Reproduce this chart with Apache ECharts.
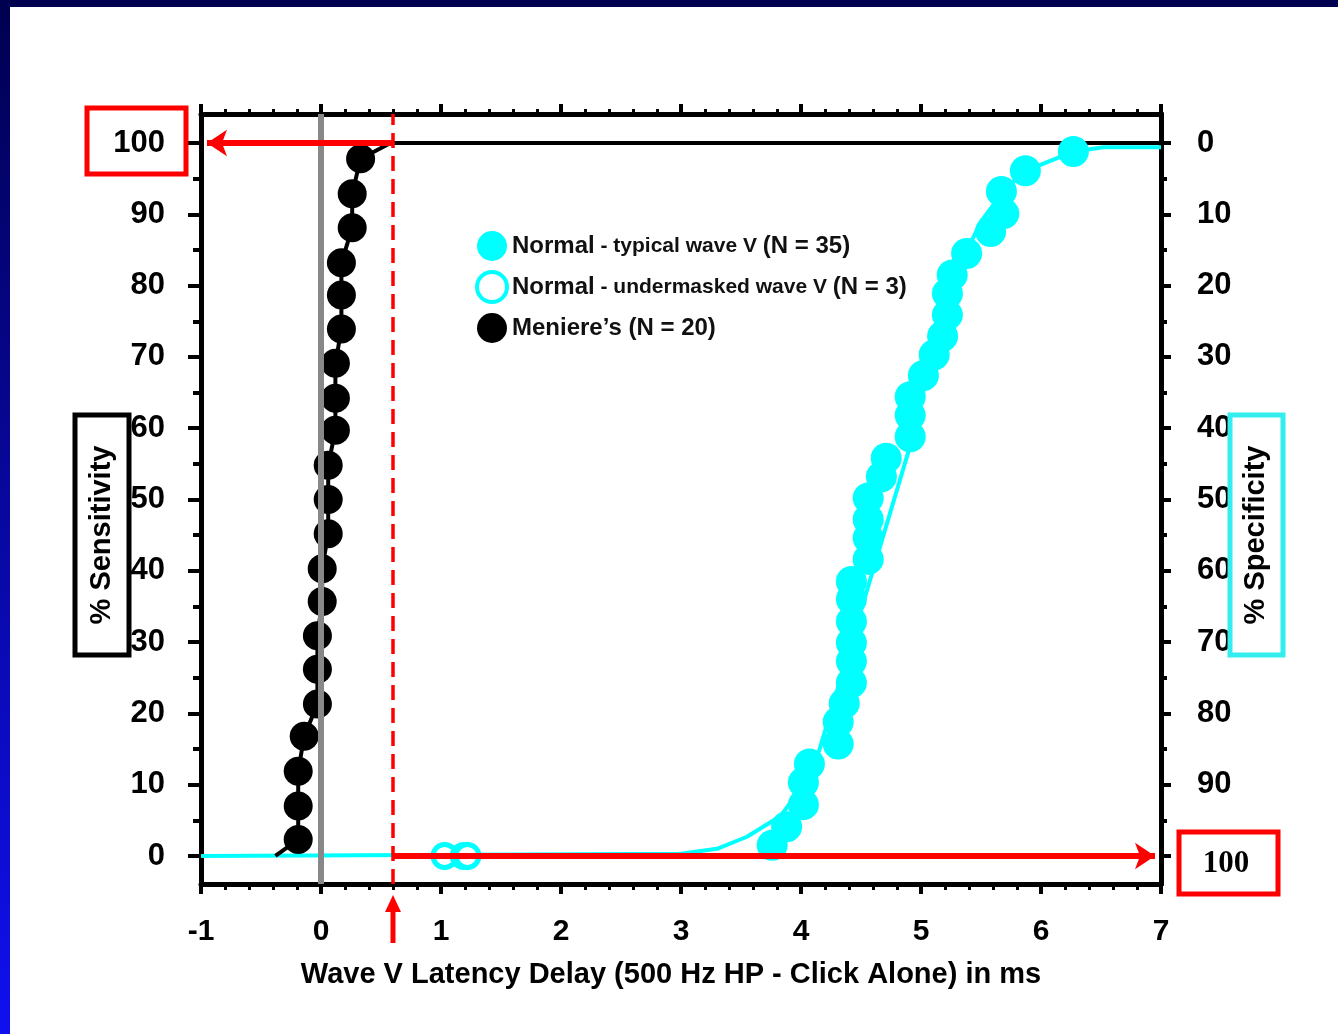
<!DOCTYPE html>
<html>
<head>
<meta charset="utf-8">
<script src="https://cdn.jsdelivr.net/npm/echarts@6/dist/echarts.min.js"></script>
<style>
html, body { margin: 0; padding: 0; background: #fff; }
#chart { width: 1338px; height: 1034px; }
</style>
</head>
<body>
<div id="chart"></div>
<script>
// Wave V latency delay: Normal vs Meniere's
const normalTypical = [
  [3.76, 1.5], [3.88, 4.1], [4.02, 7.2], [4.02, 10.3], [4.07, 12.9],
  [4.31, 15.7], [4.31, 18.8], [4.36, 21.4], [4.42, 24.3], [4.42, 27.3],
  [4.42, 29.9], [4.42, 32.9], [4.42, 36.0], [4.42, 38.5], [4.56, 41.6],
  [4.56, 44.6], [4.56, 47.2], [4.56, 50.2], [4.67, 53.2], [4.71, 55.8],
  [4.91, 58.8], [4.91, 61.8], [4.91, 64.4], [5.02, 67.4], [5.11, 70.3],
  [5.18, 72.9], [5.22, 75.9], [5.22, 78.9], [5.26, 81.5], [5.38, 84.5],
  [5.58, 87.6], [5.69, 90.1], [5.67, 93.2], [5.87, 96.1], [6.27, 98.8]
]
const normalUndermasked = [[1.03, 0], [1.19, 0], [1.22, 0]]
const meniere = [
  [-0.19, 2.3], [-0.19, 7.0], [-0.19, 11.9], [-0.14, 16.8], [-0.03, 21.3],
  [-0.03, 26.2], [-0.03, 30.9], [0.01, 35.7], [0.01, 40.3], [0.06, 45.2],
  [0.06, 50.0], [0.06, 54.8], [0.12, 59.7], [0.12, 64.2], [0.12, 69.1],
  [0.17, 73.9], [0.17, 78.7], [0.17, 83.2], [0.26, 88.1], [0.26, 92.9],
  [0.33, 97.8]
]
// fitted curves
const normalFit = [
  [-1, 0], [3.0, 0.3], [3.3, 1.0], [3.55, 2.7], [3.83, 5.6], [4.0, 9.5],
  [4.15, 14.7], [4.9, 57], [5.0, 64], [5.15, 73], [5.3, 82], [5.5, 89],
  [5.7, 93.5], [5.87, 96.1], [6.27, 98.8], [6.52, 99.4], [7, 99.4]
]
const meniereFit = [[-0.38, 0]].concat(meniere, [[0.58, 100], [7, 100]])
const cutoff = 0.6
const yMajor = [0, 10, 20, 30, 40, 50, 60, 70, 80, 90, 100]
const yMinor = [5, 15, 25, 35, 45, 55, 65, 75, 85, 95]
const rightLabels = [10, 20, 30, 40, 50, 60, 70, 80, 90, 100]

const FONT = 'Liberation Sans, Arial, sans-serif'
const chart = echarts.init(document.getElementById('chart'))

function yAx(pos, ticks, len, labels, fmt) {
  return {
    type: 'value', position: pos, min: -3.93, max: 104.07,
    axisLine: { show: true, onZero: false, lineStyle: { color: '#000', width: 5 } },
    axisTick: { show: true, customValues: ticks, length: len, lineStyle: { color: '#000', width: 4 } },
    axisLabel: labels ? {
      show: true, customValues: labels, formatter: fmt, margin: 36,
      color: '#000', fontFamily: FONT, fontWeight: 'bold', fontSize: 31
    } : { show: false },
    splitLine: { show: false }
  }
}

const option = {
  animation: false,
  backgroundColor: '#fff',
  grid: { left: 201, right: 177, top: 114, bottom: 150 },
  xAxis: [
    {
      type: 'value', min: -1, max: 7, interval: 1,
      name: 'Wave V Latency Delay (500 Hz HP - Click Alone) in ms',
      nameLocation: 'middle', nameGap: 76,
      nameTextStyle: { color: '#000', fontFamily: FONT, fontWeight: 'bold', fontSize: 29, padding: [0, 20, 0, 0] },
      axisLine: { onZero: false, lineStyle: { color: '#000', width: 5 } },
      axisTick: { length: 10, lineStyle: { color: '#000', width: 4 } },
      minorTick: { show: true, splitNumber: 5, length: 6, lineStyle: { color: '#000', width: 3 } },
      axisLabel: { margin: 33, color: '#000', fontFamily: FONT, fontWeight: 'bold', fontSize: 30 },
      splitLine: { show: false }
    },
    {
      type: 'value', position: 'top', min: -1, max: 7, interval: 1,
      axisLine: { onZero: false, lineStyle: { color: '#000', width: 5 } },
      axisTick: { length: 10, lineStyle: { color: '#000', width: 4 } },
      minorTick: { show: true, splitNumber: 5, length: 5, lineStyle: { color: '#000', width: 3 } },
      axisLabel: { show: false },
      splitLine: { show: false }
    }
  ],
  yAxis: [
    yAx('left', yMajor, 13, yMajor, v => String(v)),
    yAx('left', yMinor, 8, null),
    yAx('right', yMajor, 10, rightLabels, v => String(Math.round(100 - v))),
    yAx('right', yMinor, 6, null)
  ],
  legend: {
    left: 475, top: 231, orient: 'vertical', padding: 0,
    itemWidth: 30, itemHeight: 30, itemGap: 9,
    selectedMode: false, icon: 'circle',
    data: [
      { name: 'typical', itemStyle: { color: '#00ffff' } },
      { name: 'undermasked', itemStyle: { color: '#fff', borderColor: '#00ffff', borderWidth: 4 } },
      { name: 'meniere', itemStyle: { color: '#000' } }
    ],
    formatter: function (name) {
      if (name === 'typical') return '{a|Normal}{b| - typical wave V }{a|(N = 35)}'
      if (name === 'undermasked') return '{a|Normal}{b| - undermasked wave V }{a|(N = 3)}'
      return '{a|Meniere\u2019s (N = 20)}'
    },
    textStyle: {
      color: '#111',
      rich: {
        a: { fontFamily: FONT, fontWeight: 'bold', fontSize: 24, color: '#111' },
        b: { fontFamily: FONT, fontWeight: 'bold', fontSize: 21, color: '#111' }
      }
    }
  },
  series: [
    {
      type: 'line', data: normalFit, showSymbol: false, z: 2,
      lineStyle: { color: '#00ffff', width: 4 },
      markLine: {
        silent: true, symbol: ['none', 'none'], label: { show: false },
        data: [{ xAxis: 0, lineStyle: { color: '#888', width: 6, type: 'solid' } }]
      }
    },
    {
      type: 'line', data: meniereFit, showSymbol: false, z: 2,
      lineStyle: { color: '#000', width: 4 }
    },
    {
      name: 'typical', type: 'scatter', data: normalTypical, symbolSize: 31, z: 3,
      itemStyle: { color: '#00ffff', opacity: 1 }
    },
    {
      name: 'undermasked', type: 'scatter', data: normalUndermasked, symbolSize: 23, z: 3,
      itemStyle: { color: '#fff', borderColor: '#00ffff', borderWidth: 5, opacity: 1 }
    },
    {
      name: 'meniere', type: 'scatter', data: meniere, symbolSize: 29, z: 3,
      itemStyle: { color: '#000', opacity: 1 }
    },
    {
      type: 'line', data: [], z: 5,
      markLine: {
        silent: true, label: { show: false }, symbol: ['none', 'none'], symbolSize: 20,
        data: [
          { xAxis: cutoff, lineStyle: { color: '#ff0000', width: 3.5, type: [15, 8] } },
          [
            { coord: [cutoff, 100], symbol: 'none', lineStyle: { color: '#ff0000', width: 6, type: 'solid' } },
            { coord: [-0.95, 100], symbol: 'arrow' }
          ],
          [
            { coord: [cutoff, 0], symbol: 'none', lineStyle: { color: '#ff0000', width: 6, type: 'solid' } },
            { coord: [6.95, 0], symbol: 'arrow' }
          ]
        ]
      }
    }
  ],
  graphic: {
    elements: [
      { id: 'bgTop', type: 'rect', shape: { x: 0, y: 0, width: 1338, height: 7 }, style: { fill: '#000050' }, z: 0 },
      {
        id: 'bgLeft', type: 'rect', shape: { x: 0, y: 0, width: 10, height: 1034 }, z: 0,
        style: { fill: new echarts.graphic.LinearGradient(0, 0, 0, 1, [{ offset: 0, color: '#000050' }, { offset: 1, color: '#1010f0' }]) }
      },
      { id: 'boxTL', type: 'rect', z: 100, shape: { x: 87, y: 108, width: 99, height: 66 }, style: { fill: 'none', stroke: '#ff0000', lineWidth: 5 } },
      { id: 'boxBR', type: 'rect', z: 100, shape: { x: 1179, y: 832, width: 99, height: 62 }, style: { fill: '#fff', stroke: '#ff0000', lineWidth: 5 } },
      {
        id: 'txtBR', type: 'text', z: 101, x: 1226, y: 864,
        style: { text: '100', fill: '#000', font: 'bold 31px "Liberation Serif", "Times New Roman", serif', align: 'center', verticalAlign: 'middle' }
      },
      { id: 'boxSens', type: 'rect', z: 100, shape: { x: 75, y: 415, width: 54, height: 240 }, style: { fill: '#fff', stroke: '#000', lineWidth: 5 } },
      {
        id: 'txtSens', type: 'text', z: 101, x: 102, y: 535, rotation: Math.PI / 2,
        style: { text: '% Sensitivity', fill: '#000', font: 'bold 29px ' + FONT, align: 'center', verticalAlign: 'middle' }
      },
      { id: 'boxSpec', type: 'rect', z: 100, shape: { x: 1230, y: 415, width: 53, height: 240 }, style: { fill: '#fff', stroke: '#33eeee', lineWidth: 5 } },
      {
        id: 'txtSpec', type: 'text', z: 101, x: 1256, y: 535, rotation: Math.PI / 2,
        style: { text: '% Specificity', fill: '#000', font: 'bold 29px ' + FONT, align: 'center', verticalAlign: 'middle' }
      }
    ]
  }
}
chart.setOption(option)

// small up arrow under the x axis at the cutoff
const px = chart.convertToPixel({ xAxisIndex: 0, yAxisIndex: 0 }, [cutoff, 0])[0]
chart.setOption({
  graphic: {
    elements: [
      { id: 'upLine', type: 'line', z: 100, shape: { x1: px, y1: 943, x2: px, y2: 910 }, style: { stroke: '#ff0000', lineWidth: 5 } },
      { id: 'upHead', type: 'polygon', z: 100, shape: { points: [[px, 895], [px - 8, 912], [px + 8, 912]] }, style: { fill: '#ff0000' } }
    ]
  }
})
</script>
</body>
</html>
